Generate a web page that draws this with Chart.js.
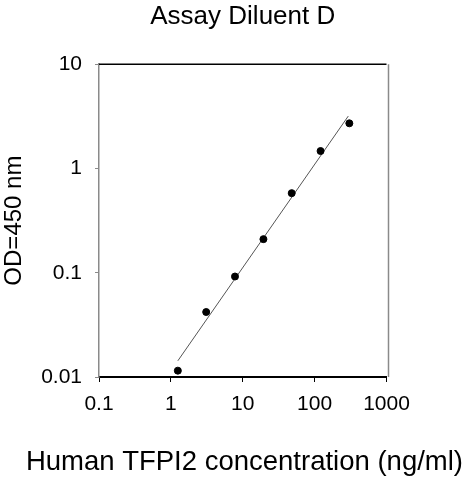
<!DOCTYPE html>
<html>
<head>
<meta charset="utf-8">
<script src="https://cdn.jsdelivr.net/npm/chart.js@4"></script>
<style>
    html, body { margin: 0; padding: 0; background: #fff; }
    #wrap { width: 463px; height: 480px; }
</style>
</head>
<body>
<div id="wrap"><canvas id="chart" width="463" height="480"></canvas></div>
<script>
// standard curve readings
const concentration = [1.25, 3.1, 7.8, 19.4, 48, 121, 304];
const odValues = [0.0115, 0.042, 0.092, 0.21, 0.58, 1.47, 2.71];

// fitted line end points
const fitX = [1.25, 294];
const fitY = [0.0143, 3.18];

const xTicks = [0.1, 1, 10, 100, 1000];
const yTicks = [0.01, 0.1, 1, 10];

const FONT = "'Liberation Sans', Arial, sans-serif";

// top and right frame lines
const framePlugin = {
    id: 'frame',
    afterDraw(chart) {
        const { ctx, chartArea: a } = chart;
        ctx.save();
        ctx.lineWidth = 1.5;
        ctx.strokeStyle = '#000';
        ctx.beginPath();
        ctx.moveTo(a.left, a.top);
        ctx.lineTo(a.right, a.top);
        ctx.stroke();
        ctx.strokeStyle = '#8a8a8a';
        ctx.beginPath();
        ctx.moveTo(a.right + 2, a.top);
        ctx.lineTo(a.right + 2, a.bottom);
        ctx.stroke();
        ctx.restore();
    }
};

const ctx = document.getElementById('chart').getContext('2d');
var chart = new Chart(ctx, {
    type: 'scatter',
    data: {
        datasets: [{
            label: 'OD',
            data: concentration.map((c, i) => ({ x: c, y: odValues[i] })),
            backgroundColor: '#000',
            borderColor: '#000',
            pointRadius: 3.5,
            pointHoverRadius: 3.5
        }, {
            label: 'Fit',
            type: 'line',
            data: fitX.map((c, i) => ({ x: c, y: fitY[i] })),
            borderColor: '#555',
            borderWidth: 1,
            pointRadius: 0,
            fill: false
        }]
    },
    plugins: [framePlugin],
    options: {
        responsive: false,
        animation: false,
        devicePixelRatio: 1,
        layout: { padding: 0 },
        plugins: {
            legend: { display: false },
            tooltip: { enabled: false },
            title: {
                display: true,
                fullSize: false,
                text: 'Assay Diluent D',
                color: '#000',
                font: { family: FONT, size: 26, weight: 'normal' },
                padding: { top: 1, bottom: 32 }
            },
            subtitle: {
                display: true,
                position: 'bottom',
                align: 'end',
                text: 'Human TFPI2 concentration (ng/ml)',
                color: '#000',
                font: { family: FONT, size: 27.5, weight: 'normal' },
                padding: { top: 0, bottom: 1.5 }
            }
        },
        scales: {
            x: {
                type: 'logarithmic',
                position: 'bottom',
                min: 0.1,
                max: 1000,
                afterBuildTicks: s => { s.ticks = xTicks.map(v => ({ value: v })); },
                afterFit: s => { s.height = 68.5; },
                ticks: {
                    autoSkip: false,
                    maxRotation: 0,
                    padding: 10,
                    color: '#000',
                    font: { family: FONT, size: 21 },
                    callback: v => String(v)
                },
                grid: { drawOnChartArea: false, drawTicks: true, tickLength: 5, color: '#000', lineWidth: 1 },
                border: { color: '#000', width: 2 }
            },
            y: {
                type: 'logarithmic',
                min: 0.01,
                max: 10,
                afterBuildTicks: s => { s.ticks = yTicks.map(v => ({ value: v })); },
                afterFit: s => { s.width = 99; },
                ticks: {
                    autoSkip: false,
                    padding: 13,
                    color: '#000',
                    font: { family: FONT, size: 21 },
                    callback: v => String(v)
                },
                grid: { drawOnChartArea: false, drawTicks: true, tickLength: 4, color: '#8a8a8a', lineWidth: 1 },
                border: { color: '#8a8a8a', width: 1.5 },
                title: {
                    display: true,
                    text: 'OD=450 nm',
                    color: '#000',
                    font: { family: FONT, size: 24 },
                    padding: { top: 0, bottom: 0 }
                }
            },
            // empty right-hand axis that only reserves space
            yRight: {
                type: 'linear',
                position: 'right',
                display: true,
                afterFit: s => { s.width = 76.5; },
                ticks: { display: false },
                grid: { display: false },
                border: { display: false }
            }
        }
    }
});
</script>
</body>
</html>
